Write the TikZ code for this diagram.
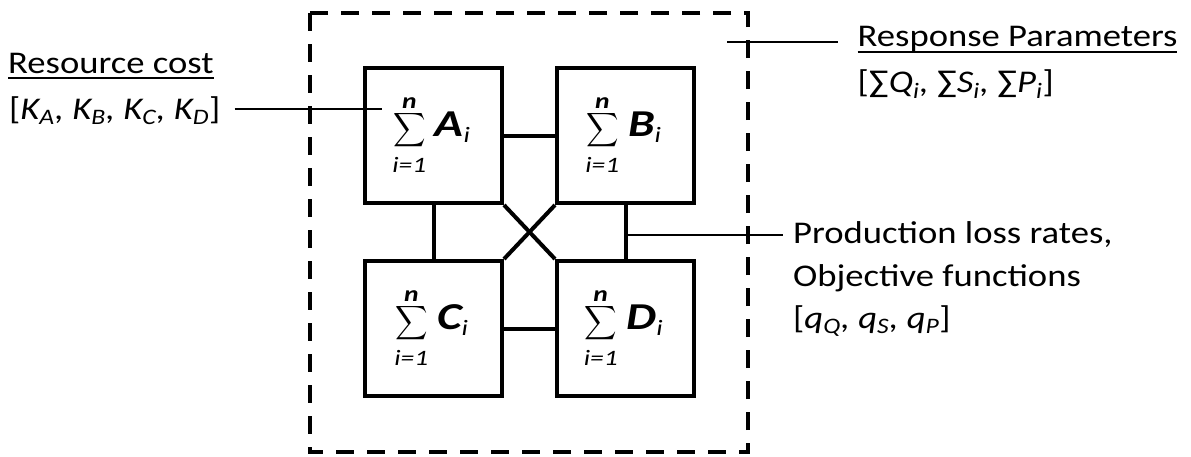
\documentclass[tikz,border=0pt]{standalone}
\usepackage{amsmath}
\usepackage{fontspec}
\setmainfont{Carlito}
\newcommand\limfont{\fontsize{22}{22}\selectfont\itshape}
\newcommand\bigsum{\mathop{\vcenter{\hbox{\resizebox*{26pt}{38pt}{$\displaystyle\sum$}}}}}
\newcommand\sumbox[1]{\scalebox{1.25}[1]{$\displaystyle\bigsum\limits_{\text{\limfont\rule{0pt}{20pt}i=1}}^{\text{\limfont\bfseries\smash[b]{\raisebox{-3pt}{n}}}}\mkern2mu\text{\fontsize{38}{38}\selectfont\bfseries\itshape #1}_{\text{\limfont i}}$}\hspace*{4pt}}
\newcommand\lab[1]{\scalebox{1.16}[1]{#1}}
\newcommand\uline[1]{\setbox0\hbox{#1}\rlap{\rule[-6pt]{\wd0}{2pt}}\box0}
\tikzset{
  unitbox/.style={draw, line width=4pt, minimum width=137pt, minimum height=135pt, inner sep=0pt, font=\fontsize{27}{30}\selectfont},
  link/.style={line width=4pt},
  lead/.style={line width=2pt},
  lbl/.style={anchor=base west, inner sep=0pt, font=\fontsize{31.6}{38}\selectfont},
  frame/.style={line width=4pt, dash pattern=on 18pt off 13pt}
}
\begin{document}
\begin{tikzpicture}[x=1pt,y=-1pt]
\useasboundingbox (0,0) rectangle (1191,456);
\draw[frame] (310,13) rectangle (748,452);
\node[unitbox] (A) at (433.5,135.5) {\sumbox{A}};
\node[unitbox] (B) at (625.5,135.5) {\sumbox{B}};
\node[unitbox] (C) at (433.5,328.5) {\sumbox{C}};
\node[unitbox] (D) at (625.5,328.5) {\sumbox{D}};
\draw[link] (A.east) -- (B.west);
\draw[link] (C.east) -- (D.west);
\draw[link] (A.south) -- (C.north);
\draw[link] (B.south) -- (D.north);
\draw[link] (A.south east) -- (D.north west);
\draw[link] (B.south west) -- (C.north east);
% labels
\node[lbl] (rc) at (8,73) {\lab{\uline{Resource cost}}};
\node[lbl] (rcv) at (9,119) {\lab{[\textit{K\textsubscript{A}, K\textsubscript{B}, K\textsubscript{C}, K\textsubscript{D}}]}};
\node[lbl] (rp) at (857.5,46.5) {\lab{\uline{Response Parameters}}};
\node[lbl] (rpv) at (857.5,92) {\lab{[∑\textit{Q\textsubscript{i}, }∑\textit{S\textsubscript{i}, }∑\textit{P\textsubscript{i}}]}};
\node[lbl] (pl) at (793,243) {\lab{Production loss rates,}};
\node[lbl] (of) at (793,286) {\lab{Objective functions}};
\node[lbl] (qv) at (793,328) {\lab{[\textit{q\textsubscript{Q}, q\textsubscript{S}, q\textsubscript{P}}]}};
% lead lines
\coordinate (aIn) at (382,109);
\coordinate (fr) at (727,42);
\coordinate (bd) at (625,235);
\draw[lead] ([xshift=14pt]rcv.east |- aIn) -- (aIn);
\draw[lead] (fr) -- ([xshift=-20pt]rp.west |- fr);
\draw[lead] (bd) -- ([xshift=-10pt]pl.west |- bd);
\end{tikzpicture}
\end{document}
